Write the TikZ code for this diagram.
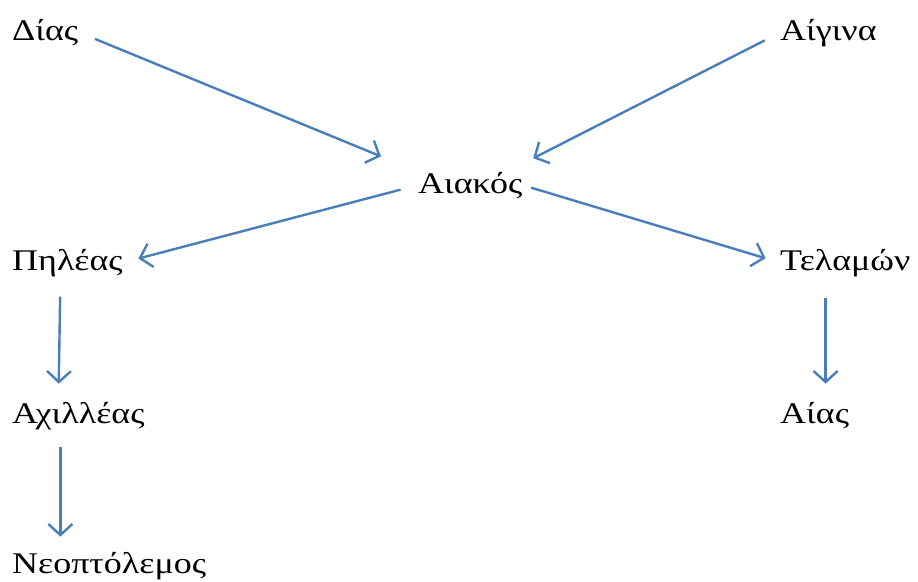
\documentclass[tikz,border=0pt]{standalone}
\usepackage{fontspec}
\setmainfont{Liberation Serif}[FakeStretch=1.2]
\usepackage{tikz}
\usetikzlibrary{arrows.meta, calc}

\begin{document}
\begin{tikzpicture}[x=1pt, y=-1pt,
  person/.style={anchor=base west, inner sep=0pt, font=\fontsize{30}{36}\selectfont},
  arr/.style={draw=arrowblue, line width=2.4pt, -{Straight Barb[length=11pt, width=24pt]}}]
\definecolor{arrowblue}{RGB}{74,126,187}
\useasboundingbox (0,0) rectangle (918,581);
\node[person] (dias) at (12,40) {Δίας};
\node[person] (aigina) at (780,40) {Αίγινα};
\node[person] (aiakos) at (418,193) {Αιακός};
\node[person] (pileas) at (12,270) {Πηλέας};
\node[person] (telamon) at (780,270) {Τελαμών};
\node[person] (achilleas) at (12,423) {Αχιλλέας};
\node[person] (aias) at (780,423) {Αίας};
\node[person] (neoptolemos) at (12,573) {Νεοπτόλεμος};
\draw[arr, shorten <=18pt, shorten >=40pt] (dias.east) -- (aiakos.north west);
\draw[arr, shorten <=17pt, shorten >=12pt] (aigina.west) -- ([yshift=8pt]aiakos.north east);
\draw[arr, shorten <=18pt, shorten >=16pt] (aiakos.west) -- (pileas.east);
\draw[arr, shorten <=9pt, shorten >=15pt] (aiakos.east) -- (telamon.west);
\draw[arr, shorten <=20pt, shorten >=18pt] ([xshift=-7pt]pileas.south) -- ([xshift=-9pt]pileas.south |- achilleas.north);
\draw[arr, shorten <=21pt, shorten >=18pt] ([xshift=11pt]aias.north |- telamon.south) -- ([xshift=11pt]aias.north);
\draw[arr, shorten <=17pt, shorten >=15pt] ([xshift=-18pt]achilleas.south) -- ([xshift=-18pt]achilleas.south |- neoptolemos.north);
\end{tikzpicture}
\end{document}
